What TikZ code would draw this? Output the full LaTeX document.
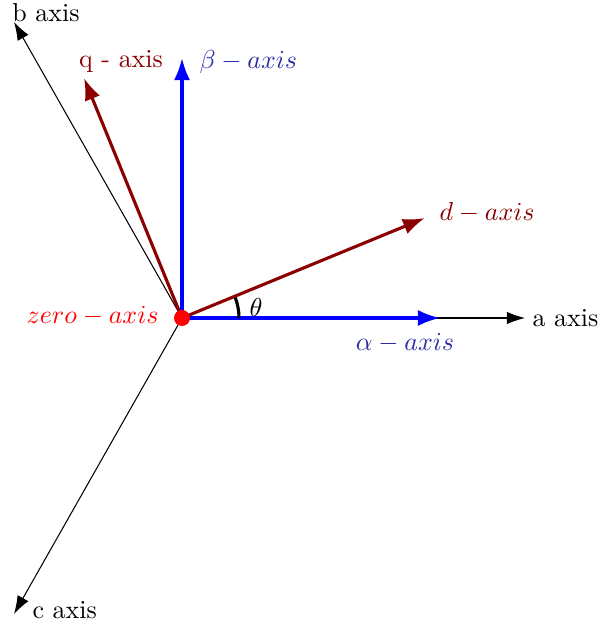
\documentclass[tikz,border=0pt]{standalone}
\usetikzlibrary{arrows.meta}
\definecolor{lblblue}{RGB}{45,45,165}
\definecolor{dred}{RGB}{139,0,0}
\begin{document}
\begin{tikzpicture}[x=0.385pt,y=0.385pt,
  thinax/.style={draw=black,line width=0.4pt,-{Latex[length=7pt,width=4.8pt]}},
  thickax/.style={line width=1.2pt,-{Latex[length=8.5pt,width=6.2pt]}},
  lbl/.style={inner sep=0pt,font=\normalsize}]
\useasboundingbox (0,0) rectangle (598,628);
\coordinate (O) at (182,310);
\coordinate (A) at (525,310);
\coordinate (B) at (14,606);
\coordinate (C) at (14,14);
\coordinate (AL) at (440,310);
\coordinate (BE) at (182,570);
\coordinate (D) at (425,410);
\coordinate (Q) at (84,550);
% thin abc axes
\draw[thinax] (O) -- (A);
\draw[thinax] (O) -- (B);
\draw[thinax] (O) -- (C);
% alpha beta
\draw[thickax,blue] (O) -- (AL);
\draw[thickax,blue] (O) -- (BE);
% d q
\draw[thickax,dred] (O) -- (D);
\draw[thickax,dred] (O) -- (Q);
% angle
\draw[line width=1.2pt] ([shift={(0:57)}]O) arc[start angle=0,end angle=21,radius=57];
\node[lbl] (th) at (256,321) {$\theta$};
% dot
\fill[red] (O) circle[radius=8];
\node[lbl,anchor=west] (la) at (532,310) {a axis};
\node[lbl] (lb) at (46,615) {b axis};
\node[lbl,anchor=west] (lc) at (32,18) {c axis};
\node[lbl,text=lblblue] (lal) at (405,285) {$\alpha-axis$};
\node[lbl,text=lblblue,anchor=west] (lbe) at (199,566) {$\beta-axis$};
\node[lbl,text=dred] (lq) at (121,566) {q - axis};
\node[lbl,text=dred] (ld) at (487,415) {$d-axis$};
\node[lbl,text=red,anchor=east] (lz) at (159,312) {$zero-axis$};
\end{tikzpicture}
\end{document}
